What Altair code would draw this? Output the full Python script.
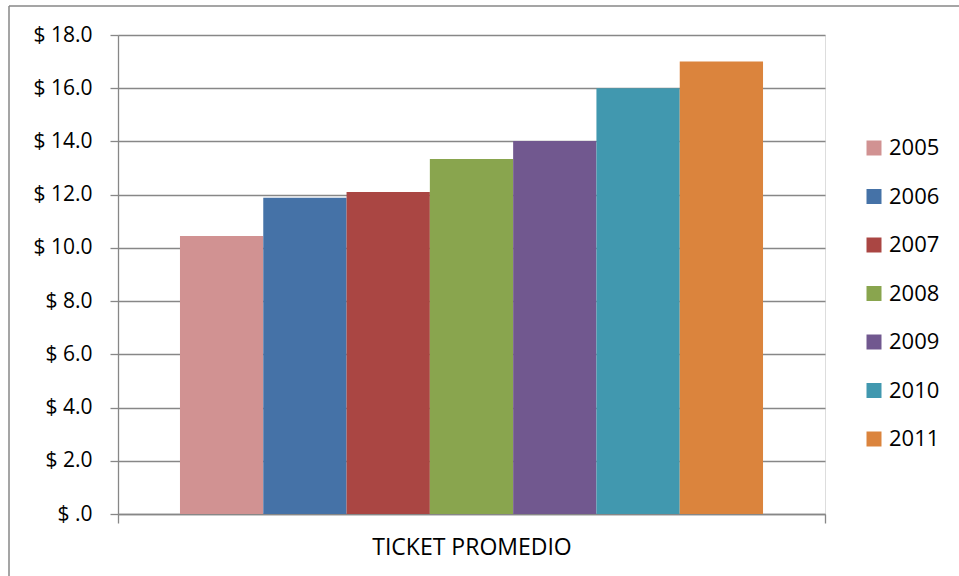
import altair as alt
import pandas as pd

# Average ticket per year
category = "TICKET PROMEDIO"
years = ["2005", "2006", "2007", "2008", "2009", "2010", "2011"]
ticket = [10.45, 11.88, 12.10, 13.34, 14.02, 16.0, 17.0]
colors = ["#D19292", "#4572A7", "#AA4643", "#89A54E", "#71588F", "#4198AF", "#DB843D"]

df = pd.DataFrame({"categoria": [category] * len(years), "anio": years, "ticket": ticket})

FONT = "Open Sans"
GRID = "#878787"

bars = alt.Chart(df).mark_bar(stroke=None).encode(
    x=alt.X(
        "categoria:N",
        scale=alt.Scale(paddingInner=0, paddingOuter=0),
        axis=alt.Axis(
            title=category,
            labels=False,
            tickBand="extent",
            tickSize=9,
            tickColor=GRID,
            tickWidth=1.3,
            domainColor=GRID,
            domainWidth=1.3,
            titleFont=FONT,
            titleFontSize=23,
            titleFontWeight="normal",
            titleColor="#000000",
            titlePadding=13,
        ),
    ),
    xOffset=alt.XOffset(
        "anio:N",
        sort=years,
        scale=alt.Scale(paddingInner=0, paddingOuter=0.744),
    ),
    y=alt.Y(
        "ticket:Q",
        scale=alt.Scale(domain=[0, 18], nice=False),
        axis=alt.Axis(
            title=None,
            values=[0, 2, 4, 6, 8, 10, 12, 14, 16, 18],
            labelExpr="datum.value == 0 ? '$ .0' : '$ ' + format(datum.value, '.1f')",
            labelFont=FONT,
            labelFontSize=21,
            labelColor="#000000",
            labelPadding=18,
            tickSize=8,
            tickColor=GRID,
            tickWidth=1.3,
            domainColor=GRID,
            domainWidth=1.3,
            grid=True,
            gridColor=GRID,
            gridWidth=1.3,
        ),
    ),
    color=alt.Color(
        "anio:N",
        scale=alt.Scale(domain=years, range=colors),
        legend=alt.Legend(
            title=None,
            orient="none",
            legendX=745,
            legendY=102,
            symbolType="square",
            symbolSize=225,
            symbolStrokeWidth=0,
            labelFont=FONT,
            labelFontSize=22,
            labelColor="#000000",
            labelOffset=4,
            rowPadding=26.5,
            padding=0,
        ),
    ),
)

# Outer frame of the chart (left and top edges)
frame_data = alt.Data(values=[{}])
frame_left = alt.Chart(frame_data).mark_rule(color="#878787", strokeWidth=1.5).encode(
    x=alt.value(-109), y=alt.value(-29), y2=alt.value(560)
)
frame_top = alt.Chart(frame_data).mark_rule(color="#878787", strokeWidth=1.5).encode(
    x=alt.value(-109), x2=alt.value(860), y=alt.value(-29)
)

chart = (
    alt.layer(frame_left, frame_top, bars)
    .properties(
        width=707,
        height=479,
        autosize=alt.AutoSizeParams(type="none"),
        padding={"left": 118, "top": 35, "right": 134, "bottom": 62},
    )
    .configure_view(stroke=None)
    .configure(background="#ffffff")
)

chart.save("out.html", embed_options={"renderer": "svg", "actions": False})
